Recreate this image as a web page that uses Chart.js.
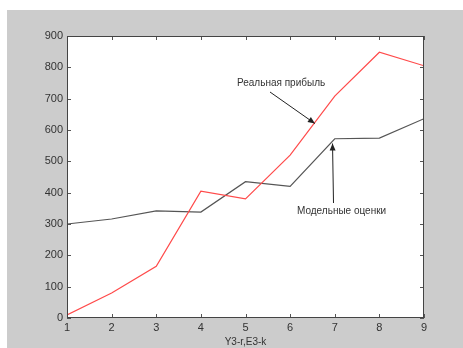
<!DOCTYPE html>
<html>
<head>
<meta charset="utf-8">
<script src="https://cdn.jsdelivr.net/npm/chart.js@4.4.0/dist/chart.umd.min.js"></script>
<style>
  html, body { margin: 0; padding: 0; background: #ffffff; }
  #wrap { width: 463px; height: 348px; }
</style>
</head>
<body>
<div id="wrap"><canvas id="profitChart" width="463" height="348"></canvas></div>
<script>
const xValues = [1, 2, 3, 4, 5, 6, 7, 8, 9];
const realProfit = [10, 80, 165, 405, 380, 520, 708, 848, 805];   // red
const modelEstimates = [300, 316, 342, 338, 435, 420, 572, 574, 636]; // black
const xTicks = [1, 2, 3, 4, 5, 6, 7, 8, 9];
const yTicks = [0, 100, 200, 300, 400, 500, 600, 700, 800, 900];

const ctx = document.getElementById('profitChart').getContext('2d');

// grey figure background + box with inward ticks + arrows, matlab style
const matlabFrame = {
  id: 'matlabFrame',
  beforeDraw(chart) {
    const c = chart.ctx;
    c.save();
    c.fillStyle = '#cccccc';
    c.fillRect(7, 10, chart.width - 7, chart.height - 10);
    const a = chart.chartArea;
    c.fillStyle = '#ffffff';
    c.fillRect(a.left, a.top, a.right - a.left, a.bottom - a.top);
    c.restore();
  },
  afterDatasetsDraw(chart) {
    const c = chart.ctx;
    const a = chart.chartArea;
    const xs = chart.scales.x, ys = chart.scales.y;
    c.save();
    c.strokeStyle = '#555555';
    c.lineWidth = 1;
    c.beginPath();
    xTicks.forEach(v => {
      const px = Math.round(xs.getPixelForValue(v)) + 0.5;
      c.moveTo(px, a.bottom); c.lineTo(px, a.bottom - 4);
      c.moveTo(px, a.top); c.lineTo(px, a.top + 4);
    });
    yTicks.forEach(v => {
      const py = Math.round(ys.getPixelForValue(v)) + 0.5;
      c.moveTo(a.left, py); c.lineTo(a.left + 4, py);
      c.moveTo(a.right, py); c.lineTo(a.right - 4, py);
    });
    c.stroke();
    c.strokeStyle = '#444444';
    c.strokeRect(a.left + 0.5, a.top + 0.5, a.right - a.left - 1, a.bottom - a.top - 1);

    // annotations
    c.fillStyle = '#333333';
    c.font = '10px "Liberation Sans", Arial, sans-serif';
    c.textBaseline = 'middle';
    c.fillText('Реальная прибыль', 237, 83);
    c.fillText('Модельные оценки', 297, 211);

    function arrow(x1, y1, x2, y2) {
      c.strokeStyle = '#222222';
      c.fillStyle = '#222222';
      c.beginPath(); c.moveTo(x1, y1); c.lineTo(x2, y2); c.stroke();
      const ang = Math.atan2(y2 - y1, x2 - x1);
      const L = 7, W = 3;
      c.beginPath();
      c.moveTo(x2, y2);
      c.lineTo(x2 - L * Math.cos(ang) + W * Math.sin(ang), y2 - L * Math.sin(ang) - W * Math.cos(ang));
      c.lineTo(x2 - L * Math.cos(ang) - W * Math.sin(ang), y2 - L * Math.sin(ang) + W * Math.cos(ang));
      c.closePath(); c.fill();
    }
    // arrows point at the lines themselves
    arrow(270, 92, xs.getPixelForValue(6.6) - 2, ys.getPixelForValue(627) + 2);
    arrow(333.5, 203, xs.getPixelForValue(6.95), ys.getPixelForValue(560) + 1);
    c.restore();
  }
};

new Chart(ctx, {
  type: 'line',
  data: {
    datasets: [{
      label: 'Реальная прибыль',
      data: xValues.map((x, i) => ({ x: x, y: realProfit[i] })),
      borderColor: '#ff4a4a',
      borderWidth: 1.2,
      pointRadius: 0,
      tension: 0
    }, {
      label: 'Модельные оценки',
      data: xValues.map((x, i) => ({ x: x, y: modelEstimates[i] })),
      borderColor: '#555555',
      borderWidth: 1.2,
      pointRadius: 0,
      tension: 0
    }]
  },
  options: {
    responsive: false,
    animation: false,
    layout: { padding: { left: 0, top: 36, right: 39, bottom: 0 } },
    plugins: {
      legend: { display: false },
      tooltip: { enabled: false }
    },
    scales: {
      x: {
        type: 'linear',
        min: 1, max: 9,
        afterBuildTicks: s => { s.ticks = xTicks.map(v => ({ value: v })); },
        afterFit: s => { s.height = 30; },
        grid: { display: false, tickLength: 0 },
        border: { display: false },
        ticks: { color: '#333333', padding: 3, font: { family: '"Liberation Sans", Arial', size: 11 } },
        title: {
          display: true,
          text: 'Y3-r,E3-k',
          color: '#333333',
          padding: { top: 0, bottom: 0 },
          font: { family: '"Liberation Sans", Arial', size: 10 }
        }
      },
      y: {
        min: 0, max: 900,
        afterBuildTicks: s => { s.ticks = yTicks.map(v => ({ value: v })); },
        afterFit: s => { s.width = 67; },
        grid: { display: false, tickLength: 0 },
        border: { display: false },
        ticks: { color: '#333333', padding: 4, font: { family: '"Liberation Sans", Arial', size: 11 } }
      }
    }
  },
  plugins: [matlabFrame]
});
</script>
</body>
</html>
